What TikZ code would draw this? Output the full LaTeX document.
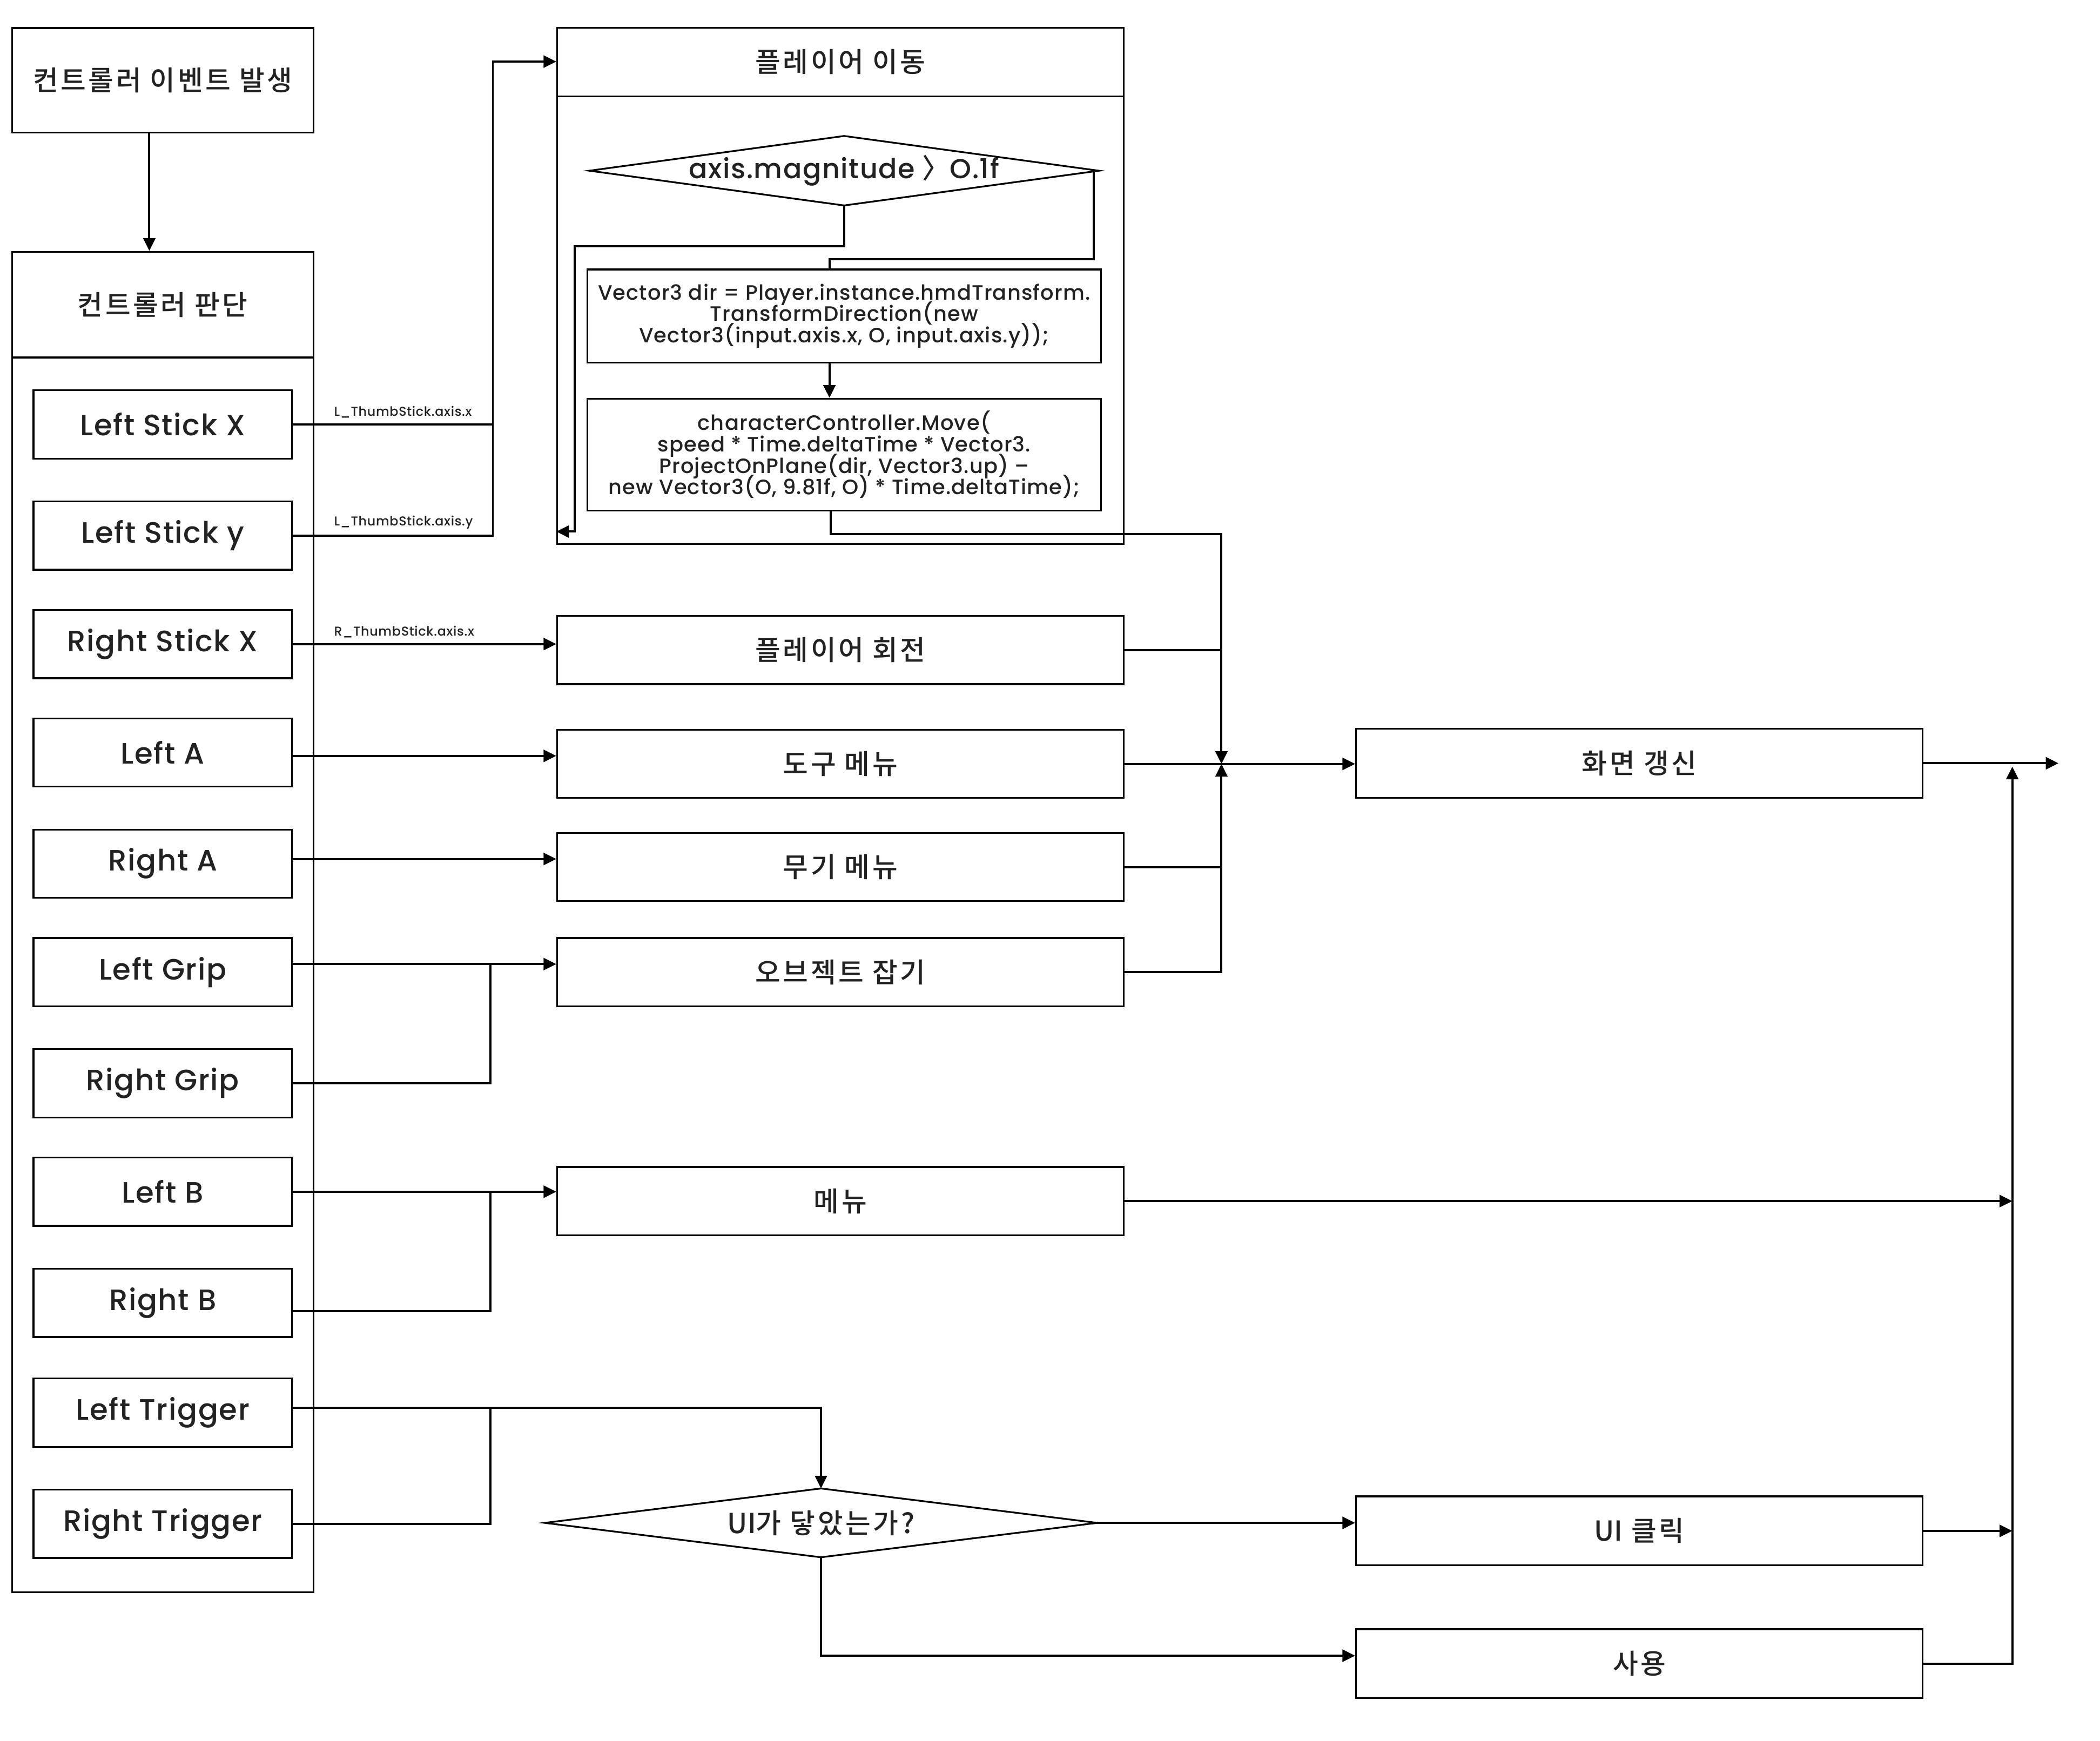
\documentclass[tikz,border=0pt]{standalone}
\usepackage{fontspec}
\setmainfont{Poppins}[UprightFont={* Medium},LetterSpace=3]
\newfontfamily\kr{Noto Sans CJK KR}[UprightFont={* Medium},LetterSpace=9]
\newfontfamily\krp{Noto Sans CJK KR}[UprightFont={* Medium},RawFeature=+palt]
\usetikzlibrary{arrows.meta,calc}
\definecolor{tg}{HTML}{222222}
\newcommand\mycodefont{\fontsize{15.5}{16}\selectfont\lineskiplimit=-20pt\relax}
\newcommand\tightUI{{\addfontfeatures{LetterSpace=0}UI}}
\begin{document}
\begin{tikzpicture}[x=1pt,y=-1pt,
  box/.style={draw=black,line width=1.3pt,rectangle,inner sep=0pt,text=tg,align=center},
  lab/.style={font=\fontsize{22}{24}\selectfont},
  klab/.style={font=\kr\fontsize{20.5}{23}\selectfont},
  code/.style={font=\mycodefont},
  btn/.style={box,lab,minimum width=193,minimum height=51},
  mid/.style={box,klab,minimum width=423,minimum height=51},
  rbox/.style={box,klab,minimum width=423,minimum height=51.5},
  line/.style={draw=black,line width=1.6pt},
  edge/.style={line,-{Triangle[length=9.5pt,width=9pt]}},
  elab/.style={anchor=south west,inner sep=1pt,text=tg,font=\fontsize{9.6}{11}\selectfont}]
\useasboundingbox[fill=white] (0,0) rectangle (1568,1300);

% left column
\node[box,klab,minimum width=225,minimum height=78] (evt) at (121.5,60) {컨트롤러 이벤트 발생};
\node[box,minimum width=225,minimum height=1001] (judge) at (121.5,688.5) {};
\node[klab,text=tg] (judget) at (121.5,227.5) {컨트롤러 판단};
\draw[line width=1.3pt] (judge.west |- 0,267) -- (judge.east |- 0,267);

\node[btn] (lsx) at (121.5,317) {Left Stick X};
\node[btn] (lsy) at (121.5,400) {Left Stick y};
\node[btn] (rsx) at (121.5,481) {Right Stick X};
\node[btn] (la) at (121.5,562) {Left A};
\node[btn] (ra) at (121.5,645) {Right A};
\node[btn] (lg) at (121.5,726) {Left Grip};
\node[btn] (rg) at (121.5,809) {Right Grip};
\node[btn] (lb) at (121.5,890) {Left B};
\node[btn] (rb) at (121.5,973) {Right B};
\node[btn] (lt) at (121.5,1055) {Left Trigger};
\node[btn] (rt) at (121.5,1138) {Right Trigger};

% player move container
\node[box,minimum width=423,minimum height=385.5] (move) at (627.5,213.6) {};
\node[klab,text=tg] (movet) at (627.5,46) {플레이어 이동};
\draw[line width=1.3pt] (move.west |- 0,72) -- (move.east |- 0,72);
\node[minimum width=380,minimum height=51.5,inner sep=0pt,text=tg,font=\fontsize{20.5}{24}\selectfont] (mag) at (630.3,127.5) {axis.magnitude {\krp 〉}\hspace{4pt} O.1f};
\draw[line width=1.3pt] (mag.west) -- (mag.north) -- (mag.east) -- (mag.south) -- cycle;
\node[box,code,minimum width=383.5,minimum height=69.5] (vec) at (630.3,236) {Vector3 dir = Player.instance.hmdTransform.\\TransformDirection(new\\Vector3(input.axis.x, O, input.axis.y));};
\node[box,code,minimum width=383.5,minimum height=83.5] (mv) at (630.3,339.5) {characterController.Move(\\speed * Time.deltaTime * Vector3.\\ProjectOnPlane(dir, Vector3.up) –\\new Vector3(O, 9.81f, O) * Time.deltaTime);};

% middle boxes
\node[mid] (rot) at (627.5,485.5) {플레이어 회전};
\node[mid] (tool) at (627.5,570.5) {도구 메뉴};
\node[mid] (weapon) at (627.5,647.5) {무기 메뉴};
\node[mid] (grab) at (627.5,726) {오브젝트 잡기};
\node[mid] (menu) at (627.5,897) {메뉴};
\node[minimum width=412,minimum height=51,inner sep=0pt,klab,text=tg] (uid) at (613,1137.3) {\tightUI 가 닿았는가?};
\draw[line width=1.3pt] (uid.west) -- (uid.north) -- (uid.east) -- (uid.south) -- cycle;

% right boxes
\node[rbox] (refresh) at (1224,570) {화면 갱신};
\node[rbox] (uiclick) at (1224,1143.3) {\tightUI\ 클릭};
\node[rbox] (use) at (1224,1242.5) {사용};

% helper coordinates
\coordinate (busL) at (368,0);
\coordinate (busG) at (366,0);
\coordinate (mx) at (912,0);
\coordinate (rx) at (1502.5,0);
\coordinate (ox) at (1537,0);
\coordinate (merge) at (tool.east -| mx);
\coordinate (retx) at (429,397);
\coordinate (rtop) at ($(refresh.east -| rx)+(0,2.5)$);
\coordinate (laE) at ($(la.east)+(0,2.5)$);
\coordinate (raE) at ($(ra.east)+(0,-3.5)$);
\coordinate (lgE) at ($(lg.east)+(0,-6)$);
\coordinate (rbE) at ($(rb.east)+(0,6)$);
\coordinate (ltE) at ($(lt.east)+(0,-3.5)$);
\coordinate (useW) at ($(use.west)+(0,-6)$);

% connectors
\draw[edge] ([xshift=-10pt]evt.south) -- ([xshift=-10pt]judge.north);
\draw[edge] (lsx.east) -- node[elab,pos=0,xshift=29pt,yshift=3pt]{L\_ThumbStick.axis.x} (busL |- lsx.east) |- (move.west |- movet);
\draw[line] (lsy.east) -- node[elab,pos=0,xshift=29pt,yshift=3pt]{L\_ThumbStick.axis.y} (busL |- lsy.east) -- (busL |- lsx.east);
\draw[edge] (rsx.east) -- node[elab,pos=0,xshift=29pt,yshift=3pt]{R\_ThumbStick.axis.x} (rot.west |- rsx.east);
\draw[edge] (laE) -- (tool.west |- laE);
\draw[edge] (raE) -- (weapon.west |- raE);
\draw[edge] (lgE) -- (grab.west |- lgE);
\draw[line] (rg.east) -| (busG |- lgE);
\draw[edge] (lb.east) -- (menu.west |- lb.east);
\draw[line] (rbE) -| (busG |- lb.east);
\draw[edge] (ltE) -| (uid.north);
\draw[line] (rt.east) -| (busG |- ltE);

% inside player move
\draw[edge] ([xshift=-11pt]vec.south) -- ([xshift=-11pt]mv.north);
\draw[line] ([xshift=-4pt]mag.east) -- ++(0,66) -| ([xshift=-11pt]vec.north);
\draw[edge] (mag.south) -- ++(0,30.5) -| (retx) -- (move.west |- retx);

% merge into refresh
\draw[edge] ([xshift=-10pt]mv.south) -- ++(0,17) -| (merge);
\draw[line] (rot.east) -- (merge |- rot.east);
\draw[edge] (weapon.east) -| (merge);
\draw[line] (grab.east) -| (merge |- weapon.east);
\draw[edge] (tool.east) -- (tool.east -| refresh.west);

% trigger decision
\draw[edge] (uid.east) -- (uiclick.west |- uid.east);
\draw[edge] (uid.south) |- (useW);

% right bus
\draw[edge] (refresh.east) -- (refresh.east -| ox);
\draw[edge] (menu.east) -- (menu.east -| rx);
\draw[edge] (uiclick.east) -- (uiclick.east -| rx);
\draw[edge] (use.east) -| (rtop);
\end{tikzpicture}
\end{document}
